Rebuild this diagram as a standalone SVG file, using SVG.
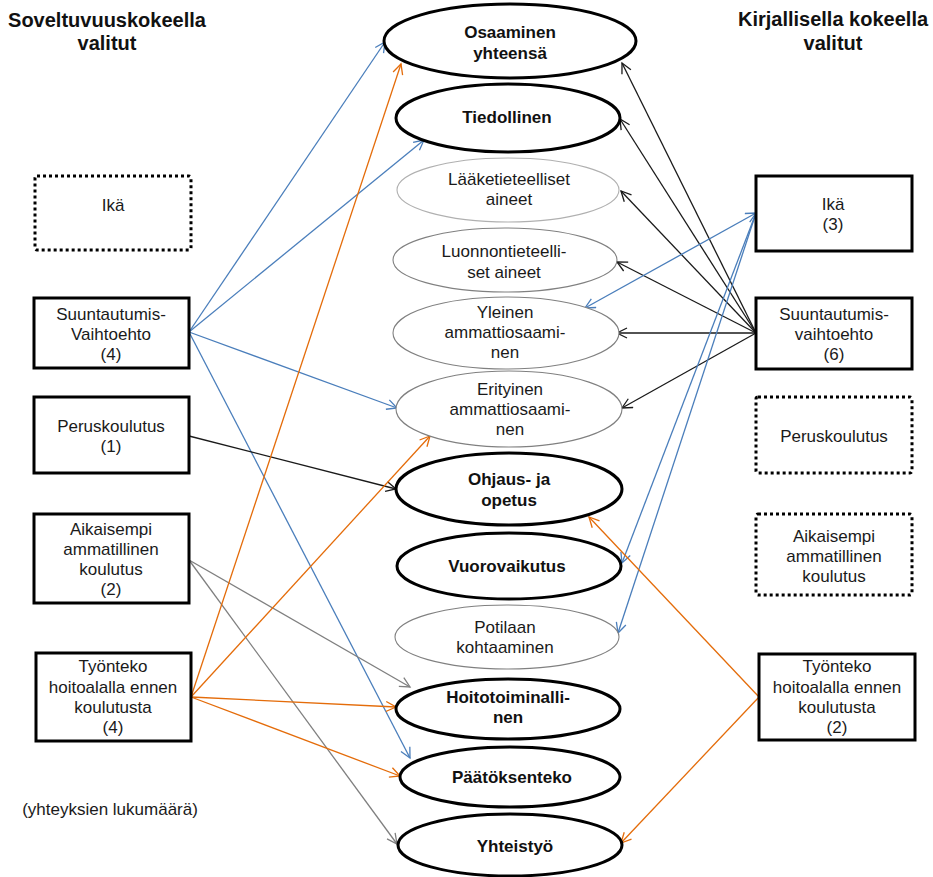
<svg xmlns="http://www.w3.org/2000/svg" width="933" height="877" viewBox="0 0 933 877">
  <style>
    text { font-family: "Liberation Sans", Arial, sans-serif; font-size: 17px; fill: #1a1a1a; text-anchor: middle; }
    .hdr { font-size: 20px; font-weight: bold; fill: #111; }
    .b { font-weight: bold; fill: #111; }
    .box { fill: #fff; stroke: #000; stroke-width: 3; }
    .dot { fill: #fff; stroke: #000; stroke-width: 3; stroke-dasharray: 3 3; }
    .main { fill: #fff; stroke: #000; stroke-width: 3; }
    .sub { fill: #fff; stroke: #808080; stroke-width: 1.1; }
    .sub2 { fill: #fff; stroke: #b0b0b0; stroke-width: 1.1; }
    .c { fill: none; stroke-width: 1.3; }
    .blue { stroke: #4a7ebb; marker-end: url(#aBlue); }
    .orange { stroke: #e46c0a; marker-end: url(#aOrange); }
    .black { stroke: #1a1a1a; marker-end: url(#aBlack); }
    .gray { stroke: #7f7f7f; marker-end: url(#aGray); }
  </style>
  <defs>
    <marker id="aBlue" markerUnits="userSpaceOnUse" markerWidth="14" markerHeight="14" refX="11" refY="6" orient="auto-start-reverse">
      <path d="M1,1 L11,6 L1,11" fill="none" stroke="#4a7ebb" stroke-width="1.3"/>
    </marker>
    <marker id="aOrange" markerUnits="userSpaceOnUse" markerWidth="14" markerHeight="14" refX="11" refY="6" orient="auto">
      <path d="M1,1 L11,6 L1,11" fill="none" stroke="#e46c0a" stroke-width="1.3"/>
    </marker>
    <marker id="aBlack" markerUnits="userSpaceOnUse" markerWidth="14" markerHeight="14" refX="11" refY="6" orient="auto">
      <path d="M1,1 L11,6 L1,11" fill="none" stroke="#1a1a1a" stroke-width="1.3"/>
    </marker>
    <marker id="aGray" markerUnits="userSpaceOnUse" markerWidth="14" markerHeight="14" refX="11" refY="6" orient="auto">
      <path d="M1,1 L11,6 L1,11" fill="none" stroke="#7f7f7f" stroke-width="1.3"/>
    </marker>
  </defs>

  <rect width="933" height="877" fill="#fff"/>

  <!-- column headings -->
  <g id="heading-left">
    <text class="hdr" x="107" y="27">Soveltuvuuskokeella</text>
    <text class="hdr" x="107" y="50">valitut</text>
  </g>
  <g id="heading-right">
    <text class="hdr" x="833" y="26">Kirjallisella kokeella</text>
    <text class="hdr" x="833" y="50">valitut</text>
  </g>

  <!-- connectors -->
  <g id="connectors">
    <!-- left: Suuntautumisvaihtoehto -->
    <line class="c blue" x1="189" y1="332" x2="385" y2="42"/>
    <line class="c blue" x1="189" y1="332" x2="424" y2="140"/>
    <line class="c blue" x1="189" y1="332" x2="397" y2="408"/>
    <line class="c blue" x1="189" y1="332" x2="410" y2="758"/>
    <!-- left: Peruskoulutus -->
    <line class="c black" x1="189" y1="436" x2="396" y2="489"/>
    <!-- left: Aikaisempi ammatillinen koulutus -->
    <line class="c gray" x1="189" y1="560" x2="410" y2="687"/>
    <line class="c gray" x1="189" y1="560" x2="397" y2="844"/>
    <!-- left: Työnteko hoitoalalla -->
    <line class="c orange" x1="191" y1="697" x2="401" y2="64"/>
    <line class="c orange" x1="191" y1="697" x2="430" y2="436"/>
    <line class="c orange" x1="191" y1="697" x2="396" y2="707"/>
    <line class="c orange" x1="191" y1="697" x2="400" y2="776"/>
    <!-- right: Suuntautumisvaihtoehto -->
    <line class="c black" x1="756" y1="333" x2="622" y2="63"/>
    <line class="c black" x1="756" y1="333" x2="620" y2="119"/>
    <line class="c black" x1="756" y1="333" x2="621" y2="191"/>
    <line class="c black" x1="756" y1="333" x2="617" y2="262"/>
    <line class="c black" x1="756" y1="333" x2="617" y2="333"/>
    <line class="c black" x1="756" y1="333" x2="622" y2="408"/>
    <!-- right: Ikä -->
    <line class="c blue" x1="756" y1="213" x2="585" y2="308" marker-start="url(#aBlue)"/>
    <line class="c blue" x1="756" y1="213" x2="622" y2="563"/>
    <line class="c blue" x1="756" y1="213" x2="618" y2="633"/>
    <!-- right: Työnteko hoitoalalla -->
    <line class="c orange" x1="759" y1="697" x2="589" y2="517"/>
    <line class="c orange" x1="759" y1="697" x2="621" y2="843"/>
  </g>

  <!-- left column -->
  <g id="l-ika">
    <rect class="dot" x="35" y="176" width="156" height="74" rx="2"/>
    <text x="113" y="211">Ikä</text>
  </g>
  <g id="l-suuntautumis">
    <rect class="box" x="34" y="298" width="155" height="70"/>
    <text x="111" y="320">Suuntautumis-</text>
    <text x="111" y="340">Vaihtoehto</text>
    <text x="111" y="360">(4)</text>
  </g>
  <g id="l-peruskoulutus">
    <rect class="box" x="34" y="397" width="155" height="76"/>
    <text x="111" y="432">Peruskoulutus</text>
    <text x="111" y="452">(1)</text>
  </g>
  <g id="l-aikaisempi">
    <rect class="box" x="34" y="514" width="155" height="89"/>
    <text x="111" y="535">Aikaisempi</text>
    <text x="111" y="555">ammatillinen</text>
    <text x="111" y="575">koulutus</text>
    <text x="111" y="595">(2)</text>
  </g>
  <g id="l-tyonteko">
    <rect class="box" x="36" y="653" width="155" height="88"/>
    <text x="113" y="672">Työnteko</text>
    <text x="113" y="693">hoitoalalla ennen</text>
    <text x="113" y="713">koulutusta</text>
    <text x="113" y="733">(4)</text>
  </g>
  <g id="legend">
    <text x="110" y="815">(yhteyksien lukumäärä)</text>
  </g>

  <!-- centre column: competence areas -->
  <g id="c-osaaminen">
    <ellipse class="main" cx="510" cy="41" rx="126" ry="37"/>
    <text class="b" x="510" y="38">Osaaminen</text>
    <text class="b" x="510" y="59">yhteensä</text>
  </g>
  <g id="c-tiedollinen">
    <ellipse class="main" cx="508" cy="118" rx="112" ry="34"/>
    <text class="b" x="507" y="123">Tiedollinen</text>
  </g>
  <g id="c-laaketieteelliset">
    <ellipse class="sub2" cx="508" cy="190" rx="111" ry="32"/>
    <text x="509" y="185">Lääketieteelliset</text>
    <text x="509" y="205">aineet</text>
  </g>
  <g id="c-luonnontieteelliset">
    <ellipse class="sub" cx="505" cy="260" rx="112" ry="32"/>
    <text x="504" y="257">Luonnontieteelli-</text>
    <text x="504" y="278">set aineet</text>
  </g>
  <g id="c-yleinen">
    <ellipse class="sub" cx="506" cy="333" rx="113" ry="36"/>
    <text x="505" y="318">Yleinen</text>
    <text x="505" y="338">ammattiosaami-</text>
    <text x="505" y="358">nen</text>
  </g>
  <g id="c-erityinen">
    <ellipse class="sub" cx="509" cy="409" rx="113" ry="38"/>
    <text x="510" y="395">Erityinen</text>
    <text x="510" y="415">ammattiosaami-</text>
    <text x="510" y="435">nen</text>
  </g>
  <g id="c-ohjaus">
    <ellipse class="main" cx="509" cy="489" rx="113" ry="36"/>
    <text class="b" x="509" y="485">Ohjaus- ja</text>
    <text class="b" x="509" y="506">opetus</text>
  </g>
  <g id="c-vuorovaikutus">
    <ellipse class="main" cx="509" cy="566" rx="112" ry="33"/>
    <text class="b" x="507" y="572">Vuorovaikutus</text>
  </g>
  <g id="c-potilaan">
    <ellipse class="sub" cx="507" cy="637" rx="112" ry="32"/>
    <text x="505" y="633">Potilaan</text>
    <text x="505" y="653">kohtaaminen</text>
  </g>
  <g id="c-hoitotoiminallinen">
    <ellipse class="main" cx="508" cy="709" rx="112" ry="30"/>
    <text class="b" x="508" y="703">Hoitotoiminalli-</text>
    <text class="b" x="508" y="723">nen</text>
  </g>
  <g id="c-paatoksenteko">
    <ellipse class="main" cx="510" cy="777" rx="110" ry="30"/>
    <text class="b" x="512" y="783">Päätöksenteko</text>
  </g>
  <g id="c-yhteistyo">
    <ellipse class="main" cx="510" cy="845" rx="112" ry="31"/>
    <text class="b" x="515" y="852">Yhteistyö</text>
  </g>

  <!-- right column -->
  <g id="r-ika">
    <rect class="box" x="756" y="176" width="156" height="75"/>
    <text x="833" y="210">Ikä</text>
    <text x="833" y="230">(3)</text>
  </g>
  <g id="r-suuntautumis">
    <rect class="box" x="756" y="298" width="156" height="71"/>
    <text x="834" y="320">Suuntautumis-</text>
    <text x="834" y="340">vaihtoehto</text>
    <text x="834" y="360">(6)</text>
  </g>
  <g id="r-peruskoulutus">
    <rect class="dot" x="756" y="397" width="156" height="76" rx="2"/>
    <text x="834" y="442">Peruskoulutus</text>
  </g>
  <g id="r-aikaisempi">
    <rect class="dot" x="756" y="514" width="156" height="81" rx="2"/>
    <text x="834" y="542">Aikaisempi</text>
    <text x="834" y="562">ammatillinen</text>
    <text x="834" y="582">koulutus</text>
  </g>
  <g id="r-tyonteko">
    <rect class="box" x="759" y="654" width="156" height="86"/>
    <text x="837" y="672">Työnteko</text>
    <text x="837" y="693">hoitoalalla ennen</text>
    <text x="837" y="713">koulutusta</text>
    <text x="837" y="733">(2)</text>
  </g>
</svg>
